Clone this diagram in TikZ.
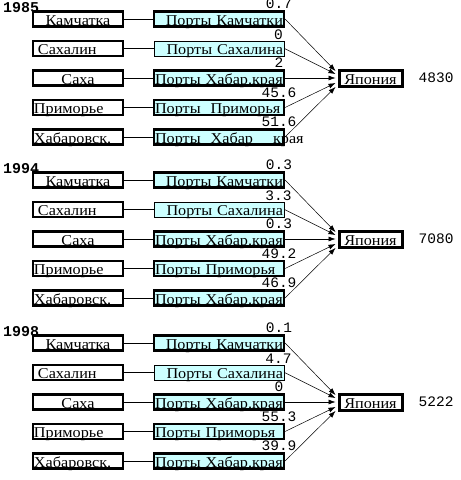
\documentclass[tikz,border=0pt]{standalone}
\usepackage{fontspec}
\setmainfont{Liberation Serif}[FakeStretch=1.08]
\setmonofont{Liberation Mono}
\usetikzlibrary{positioning,arrows.meta}
\definecolor{portcyan}{HTML}{CCFFFF}

\begin{document}
\begin{tikzpicture}[x=1pt,y=-1pt,
    box/.style={draw, line width=2.1pt, inner xsep=1pt, inner ysep=0.8pt,
      text height=12.5pt, text depth=0.5pt, font=\fontsize{15}{15}\selectfont},
    region/.style={box, text width=88pt, minimum width=90pt, minimum height=15pt},
    port/.style={box, fill=portcyan, text width=128pt, minimum width=130pt, minimum height=15pt},
    japan/.style={box, line width=3pt, minimum width=63pt, minimum height=16pt},
    num/.style={font=\ttfamily\fontsize{14.5}{15}\selectfont, inner sep=0pt},
    link/.style={line width=0.7pt},
    flow/.style={line width=0.5pt, -{Latex[length=7pt,width=5pt]}}]
  \useasboundingbox (0,0) rectangle (461,480);
  \foreach \yr/\off/\va/\vb/\vc/\vd/\ve/\tot/\pd/\pe in
    {1985/0/0.7/0/2/45.6/51.6/4830/{Порты~~Приморья}/{\mbox{Порты~~Хабар\quad~края}},
     1994/161/0.3/3.3/0.3/49.2/46.9/7080/{Порты Приморья}/{Порты Хабар.края},
     1998/324/0.1/4.7/0/55.3/39.9/5222/{Порты Приморья}/{Порты Хабар.края}}{
    % year
    \node[num, font=\ttfamily\bfseries\fontsize{15}{15}\selectfont, anchor=base west]
      (yr) at (3,\off+12) {\yr};
    % regions
    \node[region, align=center] (s1) at (78,\off+19) {Камчатка};
    \node[region, align=left]   (s2) at (78,\off+48.5) {\hspace*{4pt}Сахалин};
    \node[region, align=center] (s3) at (78,\off+78) {Саха};
    \node[region, align=left]   (s4) at (78,\off+107.5) {Приморье};
    \node[region, align=left]   (s5) at (78,\off+137) {Хабаровск.};
    % ports
    \node[port, align=right] (p1) at (219,\off+19) {Порты Камчатки};
    \node[port, align=right, line width=0.9pt] (p2) at (219,\off+48.5) {Порты Сахалина};
    \node[port, align=left]  (p3) at (219,\off+78) {Порты Хабар.края};
    \node[port, align=left]  (p4) at (219,\off+107.5) {\pd};
    \node[port, align=left]  (p5) at (219,\off+137) {\pe};
    % destination
    \node[japan] (jp) at (370.5,\off+78) {Япония};
    \node[num, right=15pt of jp] (tot) {\tot};
    % connectors
    \foreach \i in {1,...,5}
      \draw[link] (s\i.east) -- (p\i.west);
    \draw[flow] (p1.east) -- ([xshift=-2pt,yshift=7pt]jp.west);
    \draw[flow] (p2.east) -- ([xshift=-2pt,yshift=4pt]jp.west);
    \draw[flow] (p3.east) -- ([xshift=-2pt]jp.west);
    \draw[flow] (p4.east) -- ([xshift=-2pt,yshift=-5pt]jp.west);
    \draw[flow] (p5.east) -- ([xshift=-2pt,yshift=-9pt]jp.west);
    % values
    \node[num, anchor=base] at ([xshift=-6pt,yshift=1.5pt]p1.north east) {\va};
    \node[num, anchor=base] at ([xshift=-6pt,yshift=1.5pt]p2.north east) {\vb};
    \node[num, anchor=base] at ([xshift=-6pt,yshift=1.5pt]p3.north east) {\vc};
    \node[num, anchor=base] at ([xshift=-6pt,yshift=1.5pt]p4.north east) {\vd};
    \node[num, anchor=base] at ([xshift=-6pt,yshift=1.5pt]p5.north east) {\ve};
  }
\end{tikzpicture}
\end{document}
